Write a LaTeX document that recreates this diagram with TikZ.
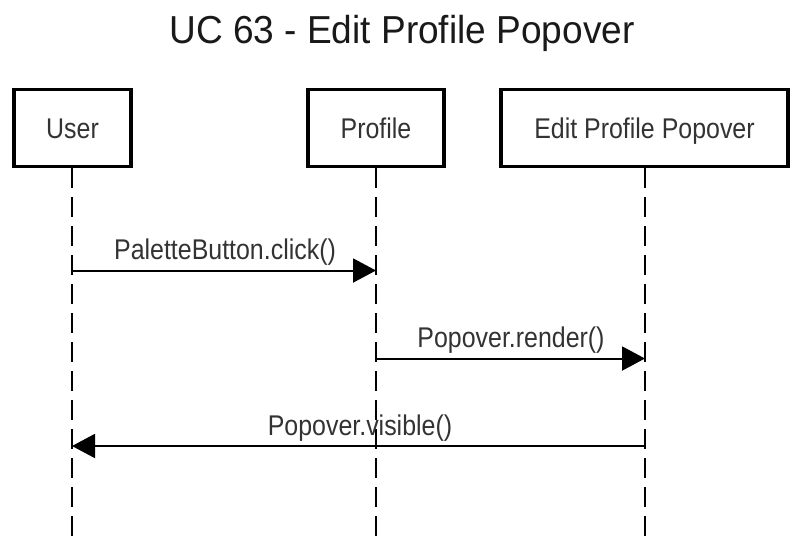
\documentclass[tikz,border=0pt]{standalone}
\usepackage{fontspec}
\setmainfont{Liberation Sans}
\newfontfamily\condfont[FakeStretch=0.875]{Liberation Sans}
\newfontfamily\titlefont[FakeStretch=0.95]{Liberation Sans}
\usetikzlibrary{arrows.meta,calc}
\definecolor{txt}{HTML}{333333}
\tikzset{
  actor/.style={draw=black, line width=3.5pt, fill=white, inner sep=0pt,
    minimum height=77pt, text height=20.4pt, text depth=0pt, text=txt,
    font=\condfont\fontsize{28.5pt}{32pt}\selectfont},
  lifeline/.style={draw=black, line width=1.8pt, dash pattern=on 20pt off 9pt},
  msg/.style={draw=black, line width=2pt, -{Triangle[length=23pt,width=24pt]}},
  msglabel/.style={anchor=base, inner sep=0pt, text=txt,
    font=\condfont\fontsize{28.5pt}{32pt}\selectfont},
}
\begin{document}
\begin{tikzpicture}[x=1pt,y=-1pt]
\useasboundingbox (0,0) rectangle (799,544);
\node[anchor=base, inner sep=0pt, font=\titlefont\fontsize{39pt}{44pt}\selectfont, text=black!90] (title) at (402,43) {UC 63 - Edit Profile Popover};
\node[actor, minimum width=117pt] (user) at (72.5,128) {User};
\node[actor, minimum width=136pt] (profile) at (376,128) {Profile};
\node[actor, minimum width=287pt] (edit) at (644.5,128) {Edit Profile Popover};
\coordinate (userEnd) at (72,546);
\coordinate (profileEnd) at (376,546);
\coordinate (editEnd) at (645,546);
\draw[lifeline] (user.south -| userEnd) -- (userEnd);
\draw[lifeline] (profile.south -| profileEnd) -- (profileEnd);
\draw[lifeline] (edit.south -| editEnd) -- (editEnd);
\coordinate (m1a) at (72,270.5);
\coordinate (m1b) at (376,270.5);
\coordinate (m2a) at (376,358.5);
\coordinate (m2b) at (645,358.5);
\coordinate (m3a) at (645,446);
\coordinate (m3b) at (72,446);
\draw[msg] (m1a) -- (m1b);
\draw[msg] (m2a) -- (m2b);
\draw[msg] (m3a) -- (m3b);
\node[msglabel] (l1) at (225,259) {PaletteButton.click()};
\node[msglabel] (l2) at (511,347) {Popover.render()};
\node[msglabel] (l3) at (360,435) {Popover.visible()};
\end{tikzpicture}
\end{document}
